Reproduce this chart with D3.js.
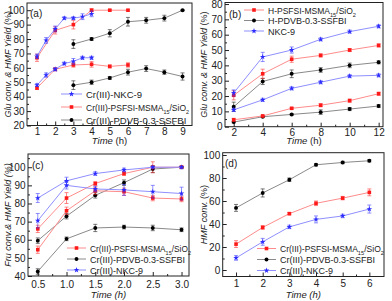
<!DOCTYPE html>
<html>
<head>
<meta charset="utf-8">
<script src="https://cdn.jsdelivr.net/npm/d3@7"></script>
<style>
  body { margin: 0; background: #fff; }
  svg { display: block; font-family: "Liberation Sans", Arial, sans-serif; }
</style>
</head>
<body>
<svg id="chart" width="392" height="301"></svg>
<script>

// ---- panel (a): glucose, Cr(III) catalysts ----
let aTimeNKC = [1, 1.5, 2, 2.5, 3, 3.5, 4];
let aNKCConv = [68, 79, 87, 94.5, 94.5, 95.5, 97.5];
let aNKCConvErr = [1.5, 2, 2, 1, 1, 2, 2];
let aNKCYield = [48, 55, 59, 63, 64.5, 67, 67];
let aNKCYieldErr = [1, 1.5, 1, 1, 2, 1, 1];
let aTimePSFSI = [1, 2, 3, 4, 5, 6];
let aPSFSIConv = [67, 86, 90, 100, 100, 100];
let aPSFSIConvErr = [2.5, 2.5, 3, 1, 0.5, 0.5];
let aPSFSIYield = [46, 59, 62, 62.5, 61, 62];
let aPSFSIYieldErr = [1, 1, 1.5, 2, 1, 1.5];
let aTimePDVB = [3, 4, 5, 6, 7, 8, 9];
let aPDVBConv = [76.5, 80, 84, 92, 93, 94.5, 100];
let aPDVBConvErr = [3, 1, 2.5, 3, 2, 2, 0.5];
let aPDVBYield = [48, 50, 53, 57, 59.5, 57, 54];
let aPDVBYieldErr = [3, 1.5, 1, 2, 2, 1.5, 2.5];

// ---- panel (b): glucose, H-form catalysts ----
let bTime = [2, 4, 6, 8, 10, 12];
let bNKCConv = [22, 45.5, 50, 57, 62, 65.5];
let bNKCConvErr = [2, 3, 2, 1, 1, 1];
let bNKCYield = [11, 17.5, 25, 29, 33, 33.5];
let bNKCYieldErr = [1, 1, 1, 1, 1, 1];
let bPSFSIConv = [20.5, 34.5, 44, 46.5, 50, 53];
let bPSFSIConvErr = [3, 3, 2, 1, 1, 1];
let bPSFSIYield = [4.5, 7, 12, 14, 17, 21.5];
let bPSFSIYieldErr = [1, 0.5, 0.5, 1, 1, 1];
let bPDVBConv = [13, 29.5, 34.5, 37, 40, 42];
let bPDVBConvErr = [3, 2, 2.5, 1.5, 1.5, 1];
let bPDVBYield = [3, 6.5, 8, 9.5, 11.5, 13.5];
let bPDVBYieldErr = [0.5, 0.5, 0.5, 1.5, 1, 1];

// ---- panel (c): fructose ----
let cTime = [0.5, 1.0, 1.5, 2.0, 2.5, 3.0];
let cNKCConv = [83, 92.5, 96.5, 98.5, 100, 100];
let cNKCConvErr = [2.5, 2, 1, 1, 0.5, 0.5];
let cNKCYield = [70.5, 90, 88, 87.5, 86.5, 85.5];
let cNKCYieldErr = [4, 2, 1.5, 3, 3.5, 3.5];
let cPSFSIConv = [66, 83, 91, 96.5, 100, 100];
let cPSFSIConvErr = [2, 3, 1, 1, 3, 0.5];
let cPSFSIYield = [54.5, 76, 87, 86.5, 83, 82.5];
let cPSFSIYieldErr = [2, 2, 2, 2, 1.5, 1.5];
let cPDVBConv = [59.5, 73, 84.5, 91.5, 99, 100];
let cPDVBConvErr = [1.5, 1.5, 1.5, 1.5, 2, 0.5];
let cPDVBYield = [42.5, 60.5, 66.5, 67, 66.5, 65.5];
let cPDVBYieldErr = [1.5, 1, 2, 1, 1.5, 1];

// ---- panel (d): HMF conversion ----
let dTime = [1, 2, 3, 4, 5, 6];
let dPDVB = [54, 67, 78.5, 91.5, 93.5, 95];
let dPDVBErr = [3, 3.5, 1.5, 1, 1, 1];
let dPSFSI = [22.5, 37, 49, 58, 62.5, 67.5];
let dPSFSIErr = [3, 1.5, 1, 2, 1.5, 3];
let dNKC = [10.5, 24.5, 37.5, 44, 47, 53];
let dNKCErr = [2, 3, 1.5, 3, 1.5, 3.5];

const RED = {mark: "#ff1a1a", line: "#ff8c8c", sym: d3.symbolSquare, size: 13};
const BLK = {mark: "#000000", line: "#8a8a8a", sym: d3.symbolCircle, size: 12};
const BLU = {mark: "#2b2bff", line: "#8f8fff", sym: d3.symbolStar, size: 10};

let svg = d3.select("#chart");

function series(style, xs, ys, errs) {
    return {style: style, pts: xs.map((x, i) => ({x: x, y: ys[i], e: errs[i]}))};
}

function addLabel(sel, parts) {
    // parts: [text, italic, sub]
    parts.forEach(p => {
        let t = sel.append("tspan").text(p[0]);
        if (p[1]) t.attr("font-style", "italic");
        if (p[2]) t.attr("font-size", "6px").attr("baseline-shift", "sub");
    });
}

function drawPanel(cfg) {
    let g = svg.append("g");
    let x = d3.scaleLinear().domain(cfg.xDomain).range([cfg.left, cfg.right]);
    let y = d3.scaleLinear().domain(cfg.yDomain).range([cfg.bottom, cfg.top]);

    // frame
    g.append("rect")
        .attr("x", cfg.left).attr("y", cfg.top)
        .attr("width", cfg.right - cfg.left).attr("height", cfg.bottom - cfg.top)
        .attr("fill", "none").attr("stroke", "#222").attr("stroke-width", 1);

    // ticks (inward) + minor
    let xa = d3.axisBottom(x).tickValues(cfg.xTicks).tickSizeInner(-4).tickSizeOuter(0)
        .tickPadding(cfg.xPad).tickFormat(cfg.xFmt);
    g.append("g").attr("transform", `translate(0,${cfg.bottom})`).call(xa)
        .select(".domain").remove();
    g.append("g").attr("transform", `translate(0,${cfg.bottom})`)
        .call(d3.axisBottom(x).tickValues(cfg.xMinor).tickSizeInner(-2).tickSizeOuter(0).tickFormat(""))
        .select(".domain").remove();

    let ya = d3.axisLeft(y).tickValues(cfg.yTicks).tickSizeInner(-4).tickSizeOuter(0).tickPadding(2.5);
    g.append("g").attr("transform", `translate(${cfg.left},0)`).call(ya)
        .select(".domain").remove();
    g.append("g").attr("transform", `translate(${cfg.left},0)`)
        .call(d3.axisLeft(y).tickValues(cfg.yMinor).tickSizeInner(-2).tickSizeOuter(0).tickFormat(""))
        .select(".domain").remove();

    g.selectAll(".tick line").attr("stroke", "#222");
    g.selectAll(".tick text").attr("font-size", "10px").attr("fill", "#222")
        .attr("font-family", "Liberation Sans, Arial, sans-serif");

    // axis titles
    let xt = g.append("text")
        .attr("x", (cfg.left + cfg.right) / 2).attr("y", cfg.bottom + cfg.xTitleDy)
        .attr("text-anchor", "middle").attr("font-size", "9.5px").attr("fill", "#222");
    addLabel(xt, cfg.xTitle);
    let yt = g.append("text")
        .attr("transform", `translate(${cfg.yTitleX},${(cfg.top + cfg.bottom) / 2}) rotate(-90)`)
        .attr("text-anchor", "middle").attr("font-size", "9px").attr("fill", "#222");
    addLabel(yt, cfg.yTitle);

    g.append("text").attr("x", cfg.tagX).attr("y", cfg.tagY)
        .attr("font-size", "10px").attr("fill", "#222").text(cfg.tag);

    let line = d3.line().x(d => x(d.x)).y(d => y(d.y));
    cfg.series.forEach(s => {
        g.append("path").datum(s.pts).attr("d", line)
            .attr("fill", "none").attr("stroke", s.style.line).attr("stroke-width", 1);
        let eb = g.append("g").attr("stroke", s.style.mark).attr("stroke-width", 0.7).attr("opacity", 0.75);
        s.pts.forEach(p => {
            eb.append("line").attr("x1", x(p.x)).attr("x2", x(p.x))
                .attr("y1", y(p.y - p.e)).attr("y2", y(p.y + p.e));
            [p.y - p.e, p.y + p.e].forEach(v => eb.append("line")
                .attr("x1", x(p.x) - 2).attr("x2", x(p.x) + 2)
                .attr("y1", y(v)).attr("y2", y(v)));
        });
        g.selectAll(null).data(s.pts).join("path")
            .attr("transform", d => `translate(${x(d.x)},${y(d.y)})`)
            .attr("d", d3.symbol().type(s.style.sym).size(s.style.size))
            .attr("fill", s.style.mark);
    });

    // legend
    cfg.legend.forEach((it, i) => {
        let ly = cfg.legY + i * cfg.legDy;
        g.append("line").attr("x1", cfg.legX).attr("x2", cfg.legX + cfg.legW)
            .attr("y1", ly).attr("y2", ly).attr("stroke", it.style.line).attr("stroke-width", 1);
        g.append("path").attr("transform", `translate(${cfg.legX + cfg.legW / 2},${ly})`)
            .attr("d", d3.symbol().type(it.style.sym).size(it.style.size)).attr("fill", it.style.mark);
        let t = g.append("text").attr("x", cfg.legX + cfg.legW + 4).attr("y", ly + 3.5)
            .attr("font-size", cfg.legFont + "px").attr("fill", "#222");
        addLabel(t, it.label);
        if (it.w) t.attr("textLength", it.w).attr("lengthAdjust", "spacingAndGlyphs");
    });
}

let lblNKC = [["Cr(III)-NKC-9"]];
let lblPSFSI = [["Cr(III)-PSFSI-MSMA"], ["15", false, true], ["/SiO"], ["2", false, true]];
let lblPDVB = [["Cr(III)-PDVB-0.3-SSFBI"]];
let gluTitle = [["Glu conv. & HMF Yield", true], [" (%)"]];

drawPanel({
    left: 27, right: 192, top: 3, bottom: 125.5,
    xDomain: [0.45, 9.52], yDomain: [20, 105],
    xTicks: d3.range(1, 10), xMinor: d3.range(1.5, 9, 1), xFmt: d3.format("d"), xPad: 2.5,
    yTicks: d3.range(20, 101, 10), yMinor: d3.range(25, 101, 10),
    xTitle: [["Time", true], [" (h)"]], xTitleDy: 18.5, yTitle: gluTitle, yTitleX: 11,
    tag: "(a)", tagX: 30, tagY: 17,
    series: [
        series(BLK, aTimePDVB, aPDVBConv, aPDVBConvErr), series(BLK, aTimePDVB, aPDVBYield, aPDVBYieldErr),
        series(RED, aTimePSFSI, aPSFSIConv, aPSFSIConvErr), series(RED, aTimePSFSI, aPSFSIYield, aPSFSIYieldErr),
        series(BLU, aTimeNKC, aNKCConv, aNKCConvErr), series(BLU, aTimeNKC, aNKCYield, aNKCYieldErr)
    ],
    legend: [{style: BLU, label: lblNKC}, {style: RED, label: lblPSFSI, w: 103}, {style: BLK, label: lblPDVB}],
    legX: 61, legW: 21, legY: 94, legDy: 13, legFont: 9.5
});

drawPanel({
    left: 225, right: 383, top: 2.5, bottom: 126.7,
    xDomain: [1.4, 12.3], yDomain: [0, 81],
    xTicks: d3.range(2, 13, 2), xMinor: d3.range(3, 12, 2), xFmt: d3.format("d"), xPad: 2.5,
    yTicks: d3.range(0, 81, 10), yMinor: d3.range(5, 81, 10),
    xTitle: [["Time", true], [" (h)"]], xTitleDy: 17.5, yTitle: gluTitle, yTitleX: 207,
    tag: "(b)", tagX: 229, tagY: 18,
    series: [
        series(BLK, bTime, bPDVBConv, bPDVBConvErr), series(BLK, bTime, bPDVBYield, bPDVBYieldErr),
        series(RED, bTime, bPSFSIConv, bPSFSIConvErr), series(RED, bTime, bPSFSIYield, bPSFSIYieldErr),
        series(BLU, bTime, bNKCConv, bNKCConvErr), series(BLU, bTime, bNKCYield, bNKCYieldErr)
    ],
    legend: [
        {style: RED, label: [["H-PSFSI-MSMA"], ["15", false, true], ["/SiO"], ["2", false, true]], w: 88},
        {style: BLK, label: [["H-PDVB-0.3-SSFBI"]]},
        {style: BLU, label: [["NKC-9"]]}
    ],
    legX: 244, legW: 20, legY: 10, legDy: 10.5, legFont: 9
});

drawPanel({
    left: 28, right: 189, top: 154, bottom: 276,
    xDomain: [0.33, 3.13], yDomain: [40, 107.3],
    xTicks: d3.range(0.5, 3.01, 0.5), xMinor: d3.range(0.75, 3, 0.5), xFmt: d3.format(".1f"), xPad: 4.5,
    yTicks: d3.range(40, 101, 10), yMinor: d3.range(45, 106, 10),
    xTitle: [["Time (h)", true]], xTitleDy: 22, yTitle: [["Fru conv.& HMF Yield (%)", true]], yTitleX: 11,
    tag: "(c)", tagX: 32, tagY: 169,
    series: [
        series(BLK, cTime, cPDVBConv, cPDVBConvErr), series(BLK, cTime, cPDVBYield, cPDVBYieldErr),
        series(RED, cTime, cPSFSIConv, cPSFSIConvErr), series(RED, cTime, cPSFSIYield, cPSFSIYieldErr),
        series(BLU, cTime, cNKCConv, cNKCConvErr), series(BLU, cTime, cNKCYield, cNKCYieldErr)
    ],
    legend: [{style: RED, label: lblPSFSI, w: 101}, {style: BLK, label: lblPDVB}, {style: BLU, label: lblNKC}],
    legX: 67, legW: 19, legY: 248, legDy: 11, legFont: 9
});

drawPanel({
    left: 222.7, right: 384, top: 152.7, bottom: 276.5,
    xDomain: [0.5, 6.55], yDomain: [-5.65, 102],
    xTicks: d3.range(1, 7), xMinor: d3.range(1.5, 6.5, 1), xFmt: d3.format("d"), xPad: 3.5,
    yTicks: d3.range(0, 101, 20), yMinor: d3.range(10, 101, 20),
    xTitle: [["Time (h)", true]], xTitleDy: 21, yTitle: [["HMF conv.", true], [" (%)"]], yTitleX: 207,
    tag: "(d)", tagX: 225, tagY: 167,
    series: [
        series(BLK, dTime, dPDVB, dPDVBErr),
        series(RED, dTime, dPSFSI, dPSFSIErr),
        series(BLU, dTime, dNKC, dNKCErr)
    ],
    legend: [{style: RED, label: lblPSFSI, w: 104}, {style: BLK, label: lblPDVB}, {style: BLU, label: lblNKC}],
    legX: 257, legW: 19, legY: 248.5, legDy: 11, legFont: 9
});

</script>
</body>
</html>
